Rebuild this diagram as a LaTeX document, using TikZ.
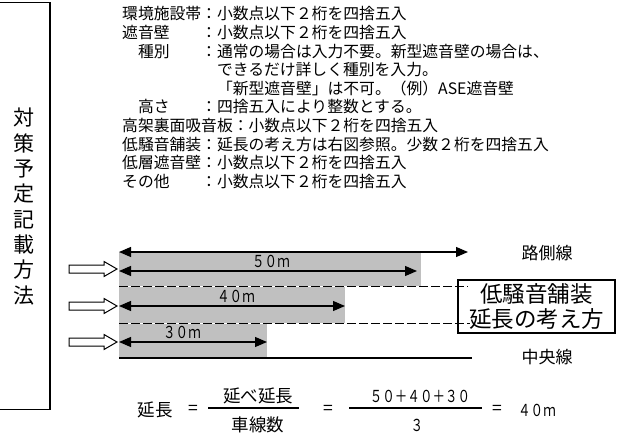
\documentclass[tikz,border=0pt]{standalone}
\usepackage{graphicx}
\usepackage{fontspec}
\setmainfont{Noto Sans CJK JP}
\usetikzlibrary{arrows.meta,shapes.arrows}
\definecolor{lanegray}{RGB}{192,192,192}
\newcommand{\numtxt}[1]{\scalebox{0.76}[1]{#1}}
\begin{document}
\begin{tikzpicture}[x=1pt,y=-1pt,
  listtext/.style={anchor=base west, inner sep=0pt, font=\fontsize{15.8}{15.8}\selectfont},
  lbl/.style={inner sep=0pt, font=\fontsize{17}{17}\selectfont},
  numlbl/.style={inner sep=0pt, font=\fontsize{16.5}{16.5}\selectfont},
  frml/.style={inner sep=0pt, font=\fontsize{17.5}{17.5}\selectfont},
  hollow/.style={single arrow, draw, line width=1pt, fill=white, minimum height=48pt,
    single arrow head extend=3.5pt, single arrow tip angle=60, inner xsep=0pt, inner ysep=3.5pt, anchor=tip},
  dimline/.style={line width=1.2pt, {Triangle[length=12pt,width=10pt]}-{Triangle[length=12pt,width=10pt]}},
  lanedash/.style={line width=1pt, dash pattern=on 9pt off 3pt},
  plainline/.style={line width=1.2pt}]
\useasboundingbox (0,0) rectangle (643,433);

% left box with vertical title
\node[draw, line width=1.2pt, inner sep=0pt, minimum width=62pt, minimum height=407pt, anchor=north east] (side) at (50.5,2) {};
\node[align=center, inner sep=0pt, font=\fontsize{21}{25.3}\selectfont] (vt) at (24,206.5) {対\\策\\予\\定\\記\\載\\方\\法};

% list text
\node[listtext] (t0) at (122,20) {環境施設帯：小数点以下２桁を四捨五入};
\node[listtext] (t1) at (122,38.6) {遮音壁　　：小数点以下２桁を四捨五入};
\node[listtext] (t2) at (122,57.2) {　種別　　：通常の場合は入力不要。新型遮音壁の場合は、};
\node[listtext] (t3) at (122,75.8) {　　　　　　できるだけ詳しく種別を入力。};
\node[listtext] (t4) at (122,94.4) {　　　　　　「新型遮音壁」は不可。（例）ASE遮音壁};
\node[listtext] (t5) at (122,113) {　高さ　　：四捨五入により整数とする。};
\node[listtext] (t6) at (122,131.6) {高架裏面吸音板：小数点以下２桁を四捨五入};
\node[listtext] (t7) at (122,150.2) {低騒音舗装：延長の考え方は右図参照。少数２桁を四捨五入};
\node[listtext] (t8) at (122,168.8) {低層遮音壁：小数点以下２桁を四捨五入};
\node[listtext] (t9) at (122,187.4) {その他　　：小数点以下２桁を四捨五入};

% lanes (gray)
\fill[lanegray] (119,252) rectangle (421,286);
\fill[lanegray] (119,286) rectangle (345,323);
\fill[lanegray] (119,323) rectangle (267,358);

% coordinates
\coordinate (rsL) at (119,252);  \coordinate (rsR) at (468,252);
\coordinate (a50L) at (119,271); \coordinate (a50R) at (417,271);
\coordinate (d1L) at (119,286);  \coordinate (d1R) at (468,286);
\coordinate (a40L) at (119,306); \coordinate (a40R) at (345,306);
\coordinate (d2L) at (119,323);  \coordinate (d2R) at (470,323);
\coordinate (a30L) at (119,342); \coordinate (a30R) at (267,342);
\coordinate (cL) at (119,358);   \coordinate (cR) at (472,358);

% dashed lane separators
\draw[white, line width=1pt] (d1L) -- (d1R);
\draw[white, line width=1pt] (d2L) -- (d2R);
\draw[lanedash] (d1L) -- (d1R);
\draw[lanedash] (d2L) -- (d2R);

% dimension arrows
\draw[dimline] (rsL) -- (rsR);
\draw[dimline] (a50L) -- (a50R);
\draw[dimline] (a40L) -- (a40R);
\draw[dimline] (a30L) -- (a30R);
\draw[plainline] (cL) -- (cR);

\node[numlbl] (l50) at (271,261) {\numtxt{５０ｍ}};
\node[numlbl] (l40) at (236,296) {\numtxt{４０ｍ}};
\node[numlbl] (l30) at (182,332) {\numtxt{３０ｍ}};

% hollow arrows
\node[hollow] (h1) at (118,269) {};
\node[hollow] (h2) at (118,306) {};
\node[hollow] (h3) at (118,342) {};

% labels right
\node[lbl] (rs) at (547,253) {路側線};
\node[lbl] (cl) at (547,357) {中央線};
\node[draw, line width=1.2pt, minimum width=157pt, minimum height=53pt, inner sep=0pt, align=center,
  font=\fontsize{22.5}{25}\selectfont] (box) at (536.5,306.5) {低騒音舗装\\延長の考え方};

% formula
\node[frml] (f0) at (155,410) {延長};
\node[frml] (e1) at (193,410) {=};
\node[frml] (n1) at (258,396) {延べ延長};
\node[frml] (d1) at (258,425) {車線数};
\coordinate (b1L) at (208,408); \coordinate (b1R) at (299,408);
\draw[plainline] (b1L) -- (b1R);
\node[frml] (e2) at (328,410) {=};
\node[numlbl] (n2) at (420,396) {\numtxt{５０＋４０＋３０}};
\node[numlbl] (d2) at (417,425) {\numtxt{３}};
\coordinate (b2L) at (349,408); \coordinate (b2R) at (482,408);
\draw[plainline] (b2L) -- (b2R);
\node[frml] (e3) at (497,410) {=};
\node[numlbl] (res) at (537,410) {\numtxt{４０ｍ}};
\end{tikzpicture}
\end{document}
